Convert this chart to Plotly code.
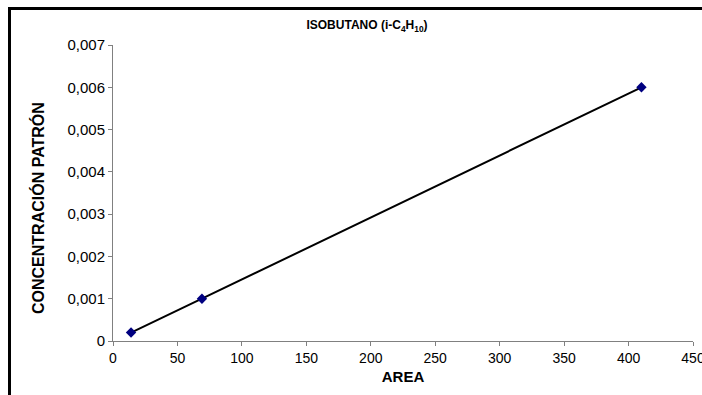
import plotly.graph_objects as go

area = [14, 69, 410]
concentracion = [0.0002, 0.001, 0.006]

x_ticks = [0, 50, 100, 150, 200, 250, 300, 350, 400, 450]
y_ticks = [0, 0.001, 0.002, 0.003, 0.004, 0.005, 0.006, 0.007]
y_labels = ["0", "0,001", "0,002", "0,003", "0,004", "0,005", "0,006", "0,007"]

fig = go.Figure()
fig.add_trace(go.Scatter(
    x=area, y=concentracion, mode="lines+markers",
    line=dict(color="black", width=2),
    marker=dict(symbol="diamond", size=8, color="#000080"),
    showlegend=False, cliponaxis=False,
))

L, R, T, B = 113, 9, 45, 54
W, H = 702, 395
pw, ph = W - L - R, H - T - B

def px(xp):
    return (xp - L) / pw

def py(yp):
    return (H - B - yp) / ph

fig.update_layout(
    width=W, height=H,
    margin=dict(l=L, r=R, t=T, b=B, autoexpand=False),
    paper_bgcolor="white", plot_bgcolor="white",
    font=dict(family="Liberation Sans, Arial, sans-serif", size=13, color="black"),
    title=dict(text="<b>ISOBUTANO (i-C<sub>4</sub>H<sub>10</sub>)</b>",
               x=367 / W, xanchor="center", y=1 - 25 / H, yanchor="middle",
               font=dict(size=12)),
    xaxis=dict(range=[0, 450], tickvals=x_ticks, ticktext=[str(v) for v in x_ticks],
               showgrid=False, zeroline=False, showline=True, linecolor="#808080",
               linewidth=1, ticks="outside", tickcolor="#808080", ticklen=4,
               tickfont=dict(size=14), ticklabeloverflow="allow", automargin=False,
               title=dict(text="<b>AREA</b>", font=dict(size=15), standoff=6)),
    yaxis=dict(range=[0, 0.007], tickvals=y_ticks, ticktext=y_labels,
               showgrid=False, zeroline=False, showline=True, linecolor="#808080",
               linewidth=1, ticks="outside", tickcolor="#808080", ticklen=4,
               tickfont=dict(size=15), ticklabeloverflow="allow", automargin=False),
    annotations=[
        dict(text="<b>CONCENTRACIÓN PATRÓN</b>", textangle=-90, showarrow=False,
             xref="paper", yref="paper", x=px(38), y=py(208),
             xanchor="center", yanchor="middle", font=dict(size=16)),
    ],
    shapes=[
        dict(type="line", xref="paper", yref="paper", x0=px(9.5), x1=px(9.5),
             y0=py(8.5), y1=py(400), line=dict(color="black", width=3)),
        dict(type="line", xref="paper", yref="paper", x0=px(8), x1=px(710),
             y0=py(8.5), y1=py(8.5), line=dict(color="black", width=3)),
    ],
)

fig.write_html("out.html")
